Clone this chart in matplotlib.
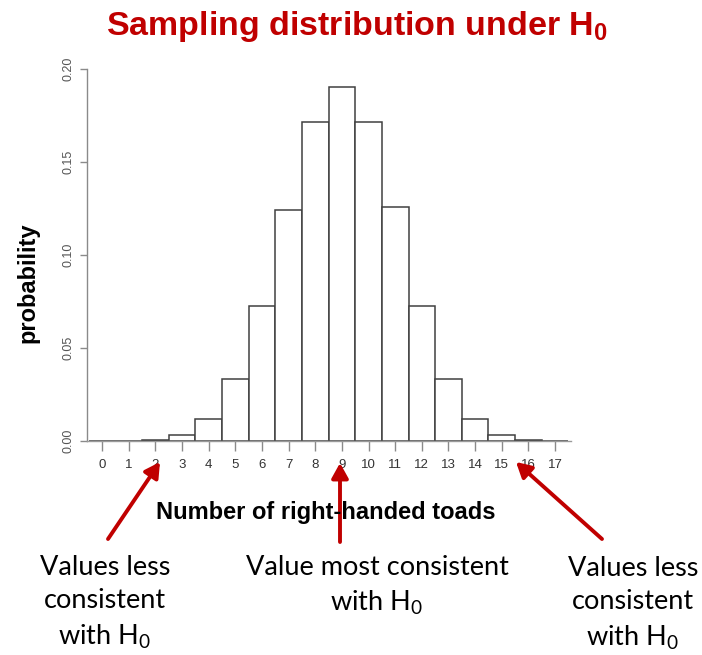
import matplotlib
matplotlib.use("Agg")
import matplotlib.pyplot as plt
import numpy as np

plt.rcParams['font.family'] = ['Liberation Sans', 'DejaVu Sans']
plt.rcParams['mathtext.fontset'] = 'custom'
plt.rcParams['mathtext.rm'] = 'Liberation Sans'
plt.rcParams['mathtext.bf'] = 'Liberation Sans:bold'
plt.rcParams['mathtext.sf'] = 'Lato'

# number of right-handed toads and probability under H0
toads = list(range(18))
prob = [0.0, 0.0, 0.0007, 0.0032, 0.0120, 0.0333, 0.0727, 0.1242, 0.1713,
        0.1905, 0.1717, 0.1256, 0.0726, 0.0335, 0.0120, 0.0031, 0.0007, 0.0]
yticks = [0.00, 0.05, 0.10, 0.15, 0.20]

W, H = 702, 655
fig = plt.figure(figsize=(W / 100, H / 100), dpi=100)
ax = fig.add_axes([87 / W, 1 - 441 / H, (571 - 87) / W, (441 - 69) / H])

ax.bar(toads, prob, width=1.0, color='white', edgecolor='#404040', linewidth=1.1)

ax.set_xlim(-0.57, 17.6)
ax.set_ylim(0, 0.2)
for s in ['top', 'right']:
    ax.spines[s].set_visible(False)
ax.spines['left'].set_color('#8a8a8a')
ax.spines['bottom'].set_color('#9a9a9a')
ax.spines['left'].set_linewidth(1.0)
ax.spines['bottom'].set_linewidth(1.0)

ax.set_xticks(toads)
ax.set_xticklabels([str(t) for t in toads])
ax.set_yticks(yticks)
ax.set_yticklabels(['%.2f' % v for v in yticks], rotation=90, va='center')
ax.tick_params(axis='x', length=7, width=1, color='#8a8a8a', labelsize=9.5,
               labelcolor='#333333', pad=6)
ax.tick_params(axis='y', length=5, width=1, color='#8a8a8a', labelsize=9,
               labelcolor='#555555', pad=4)

# titles and axis labels
fig.text(357 / W, 1 - 26 / H, r'Sampling distribution under H$_\mathbf{0}$',
         color='#c00000', fontsize=24.5, fontweight='bold', ha='center', va='center')
fig.text(326 / W, 1 - 513 / H, 'Number of right-handed toads', fontsize=17,
         fontweight='bold', ha='center', va='center')
fig.text(28 / W, 1 - 283 / H, 'probability', fontsize=17, fontweight='bold',
         rotation=90, ha='center', va='center')

# arrows
red = '#c00000'
arrows = [((108, 539), (160, 462)), ((340, 542), (340, 463)), ((602, 539), (516, 462))]
for (tx, ty), (hx, hy) in arrows:
    ax.annotate('', xy=(hx, H - hy), xycoords='figure pixels',
                xytext=(tx, H - ty), textcoords='figure pixels',
                arrowprops=dict(arrowstyle='-|>,head_length=0.9,head_width=0.5',
                                color=red, lw=2.8, shrinkA=0, shrinkB=0),
                annotation_clip=False)

# annotation text
h0 = r'with H$_\mathsf{0}$'
notes = [(105, 603, 'Values less\nconsistent\n' + h0),
         (377, 586, 'Value most consistent\n' + h0),
         (633, 604, 'Values less\nconsistent\n' + h0)]
for x, y, s in notes:
    fig.text(x / W, 1 - y / H, s, fontsize=19.5, family='Lato', ha='center',
             va='center', linespacing=1.42, multialignment='center')

fig.savefig('out.png', dpi=100)
